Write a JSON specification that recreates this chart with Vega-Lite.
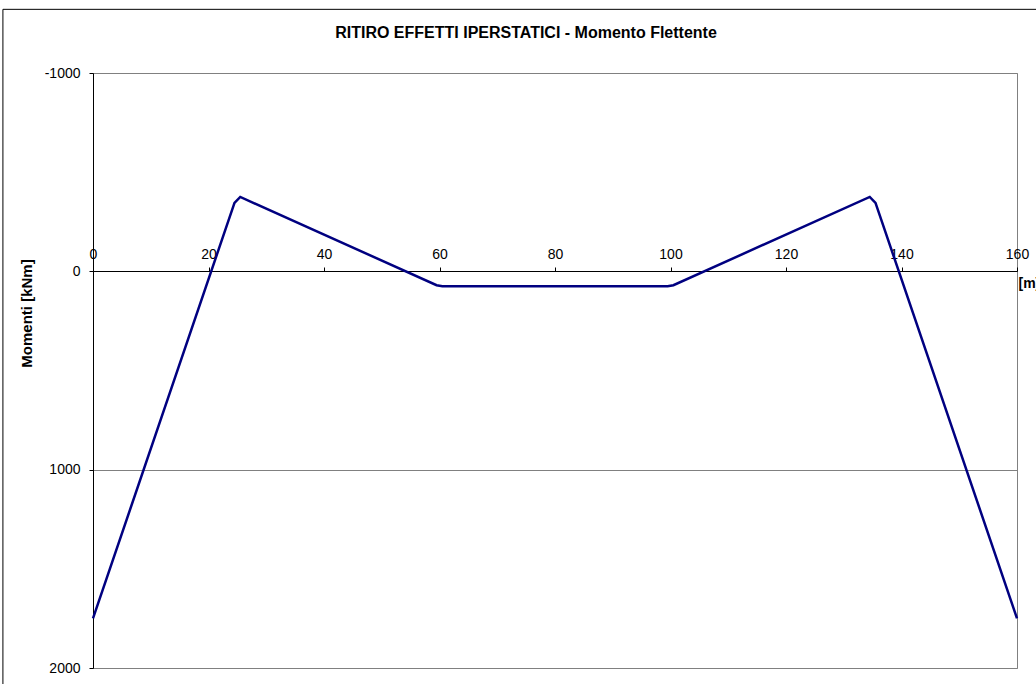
{
  "$schema": "https://vega.github.io/schema/vega-lite/v6.json",
  "width": 924,
  "height": 595,
  "autosize": "none",
  "padding": {"left": 93, "top": 73, "right": 19, "bottom": 16},
  "background": "white",
  "config": {
    "font": "Liberation Sans",
    "view": {"stroke": "#808080", "strokeWidth": 1}
  },
  "title": {
    "text": "RITIRO EFFETTI IPERSTATICI - Momento Flettente",
    "fontSize": 16,
    "fontWeight": "bold",
    "color": "black",
    "anchor": "middle",
    "frame": "group",
    "dx": -29,
    "baseline": "alphabetic",
    "offset": -45
  },
  "layer": [
    {
      "data": {"values": [{}]},
      "mark": {"type": "rect", "filled": false, "stroke": "black", "strokeWidth": 1, "clip": false},
      "encoding": {
        "x": {"datum": -15.6, "type": "quantitative", "scale": {"domain": [0, 160], "nice": false, "zero": false}},
        "x2": {"datum": 175},
        "y": {"datum": -1321, "type": "quantitative", "scale": {"domain": [-1000, 2000], "nice": false, "zero": false, "reverse": true}},
        "y2": {"datum": 2200}
      }
    },
    {
      "data": {
        "values": [
          {"x": 0, "m": 1750},
          {"x": 24.5, "m": -345},
          {"x": 25.5, "m": -375},
          {"x": 59.5, "m": 70},
          {"x": 60.5, "m": 75},
          {"x": 99.5, "m": 75},
          {"x": 100.5, "m": 70},
          {"x": 134.5, "m": -375},
          {"x": 135.5, "m": -345},
          {"x": 160, "m": 1750}
        ]
      },
      "mark": {"type": "line", "color": "#000080", "strokeWidth": 2.5},
      "encoding": {
        "x": {
          "field": "x",
          "type": "quantitative",
          "scale": {"domain": [0, 160], "nice": false, "zero": false},
          "axis": {
            "orient": "top",
            "offset": -198,
            "values": [0, 20, 40, 60, 80, 100, 120, 140, 160],
            "grid": false,
            "domainColor": "black",
            "tickColor": "black",
            "tickSize": 4,
            "labelFontSize": 14,
            "labelColor": "black",
            "labelPadding": 6,
            "labelFlush": false,
            "labelExpr": "'' + datum.value",
            "title": "[m]",
            "titleFontSize": 14,
            "titleFontWeight": "bold",
            "titleColor": "black",
            "titleAngle": 0,
            "titleX": 925,
            "titleY": 12,
            "titleAlign": "left",
            "titleBaseline": "middle"
          }
        },
        "y": {
          "field": "m",
          "type": "quantitative",
          "scale": {"domain": [-1000, 2000], "nice": false, "zero": false, "reverse": true},
          "axis": {
            "values": [-1000, 0, 1000, 2000],
            "grid": true,
            "gridColor": "#808080",
            "gridWidth": 1,
            "domainColor": "black",
            "tickColor": "black",
            "tickSize": 4,
            "labelFontSize": 14,
            "labelColor": "black",
            "labelPadding": 9,
            "labelFlush": false,
            "labelExpr": "'' + datum.value",
            "title": "Momenti [kNm]",
            "titleFontSize": 15,
            "titleFontWeight": "bold",
            "titleColor": "black",
            "titleAngle": -90,
            "titleX": -67,
            "titleY": 240,
            "titleAlign": "center",
            "titleBaseline": "middle"
          }
        }
      }
    }
  ]
}
